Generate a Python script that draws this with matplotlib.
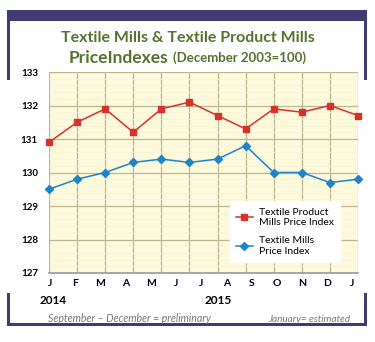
import matplotlib
matplotlib.use("Agg")
from matplotlib import pyplot as plt
from matplotlib.patches import Rectangle
import numpy as np

months = ["J", "F", "M", "A", "M", "J", "J", "A", "S", "O", "N", "D", "J"]
product_mills = [130.9, 131.5, 131.9, 131.2, 131.9, 132.1, 131.7, 131.3, 131.9, 131.8, 132.0, 131.7]
textile_mills = [129.5, 129.8, 130.0, 130.3, 130.4, 130.3, 130.4, 130.8, 130.0, 130.0, 129.7, 129.8]
y_ticks = [127, 128, 129, 130, 131, 132, 133]

navy = "#3f3c73"
olive = "#557230"
red = "#d8312c"
blue = "#1f83c9"
grid_col = "#bcb78f"

plt.rcParams['font.family'] = ['Lato', 'DejaVu Sans']

fig = plt.figure(figsize=(3.75, 3.42), dpi=100)
W, H = 375, 342

def px(x, y):
    return x / W, 1 - y / H

# frame
frame = [
    (7, 10, 360, 11),    # top band
    (7, 10, 3, 70),      # left top
    (364, 10, 3, 70),    # right top
    (7, 293, 3, 33),     # left bottom
    (364, 293, 3, 33),   # right bottom
    (7, 323, 360, 3),    # bottom
]
for x, y, w, h in frame:
    fig.patches.append(Rectangle((x / W, 1 - (y + h) / H), w / W, h / H,
                                 transform=fig.transFigure, color=navy, lw=0))

# title
fig.text(*px(188, 38), "Textile Mills & Textile Product Mills", ha="center", va="center",
         fontsize=11.5, fontweight="bold", color=olive)
fig.text(*px(168, 58), "PriceIndexes", ha="right", va="center",
         fontsize=12.5, fontweight="bold", color=olive)
fig.text(*px(173, 58), "(December 2003=100)", ha="left", va="center",
         fontsize=9.5, fontweight="bold", color=olive)

ax = fig.add_axes([49 / W, 1 - 273 / H, 309 / W, 201 / H])
ax.set_facecolor("#fdf9dc")
x = np.arange(len(product_mills))

ax.plot(x, product_mills, color=red, marker="s", markersize=5, lw=1.1,
        label="Textile Product\nMills Price Index", zorder=3, clip_on=False)
ax.plot(x, textile_mills, color=blue, marker="D", markersize=4, lw=1.1,
        label="Textile Mills\nPrice Index", zorder=3, clip_on=False)

ax.set_xlim(0, len(product_mills) - 1)
ax.set_ylim(127, 133)
ax.set_yticks(y_ticks)
ax.set_yticklabels([str(v) for v in y_ticks], fontsize=7, fontweight="bold")
ax.set_yticks(np.arange(127, 133.01, 0.2), minor=True)
ax.set_xticks(np.linspace(0.04, 10.8, len(months)))
ax.set_xticklabels(months, fontsize=7.5, fontweight="bold")
ax.set_xticks(x, minor=True)
ax.tick_params(length=0, which="both", pad=4)
ax.tick_params(axis="y", pad=8)

ax.grid(False)
ax.xaxis.grid(True, which="minor", color=grid_col, lw=0.9)
ax.yaxis.grid(True, which="major", color=grid_col, lw=0.9)
ax.yaxis.grid(True, which="minor", color="#f7f2d2", lw=0.5)
ax.set_axisbelow(True)
for s in ["top", "right", "left"]:
    ax.spines[s].set_visible(False)
ax.spines["bottom"].set_color("#9a9a9a")
ax.spines["bottom"].set_linewidth(1.2)

leg = ax.legend(loc="lower right", bbox_to_anchor=(0.942, 0.055), fontsize=7.5,
                frameon=True, fancybox=False, framealpha=1, edgecolor="white",
                handlelength=1.6, labelspacing=0.9, borderpad=0.6, borderaxespad=0,
                handletextpad=0.6)

fig.text(*px(40, 300), "2014", ha="left", va="center", fontsize=8.5, fontweight="bold")
fig.text(*px(205, 300), "2015", ha="left", va="center", fontsize=8.5, fontweight="bold")
fig.text(*px(48, 319), "September \u2013 December = preliminary", ha="left", va="center",
         fontsize=7.6, style="italic", color="#777777")
fig.text(*px(350, 319), "January= estimated", ha="right", va="center",
         fontsize=7.2, style="italic", color="#777777")

fig.savefig("out.png", dpi=100)
